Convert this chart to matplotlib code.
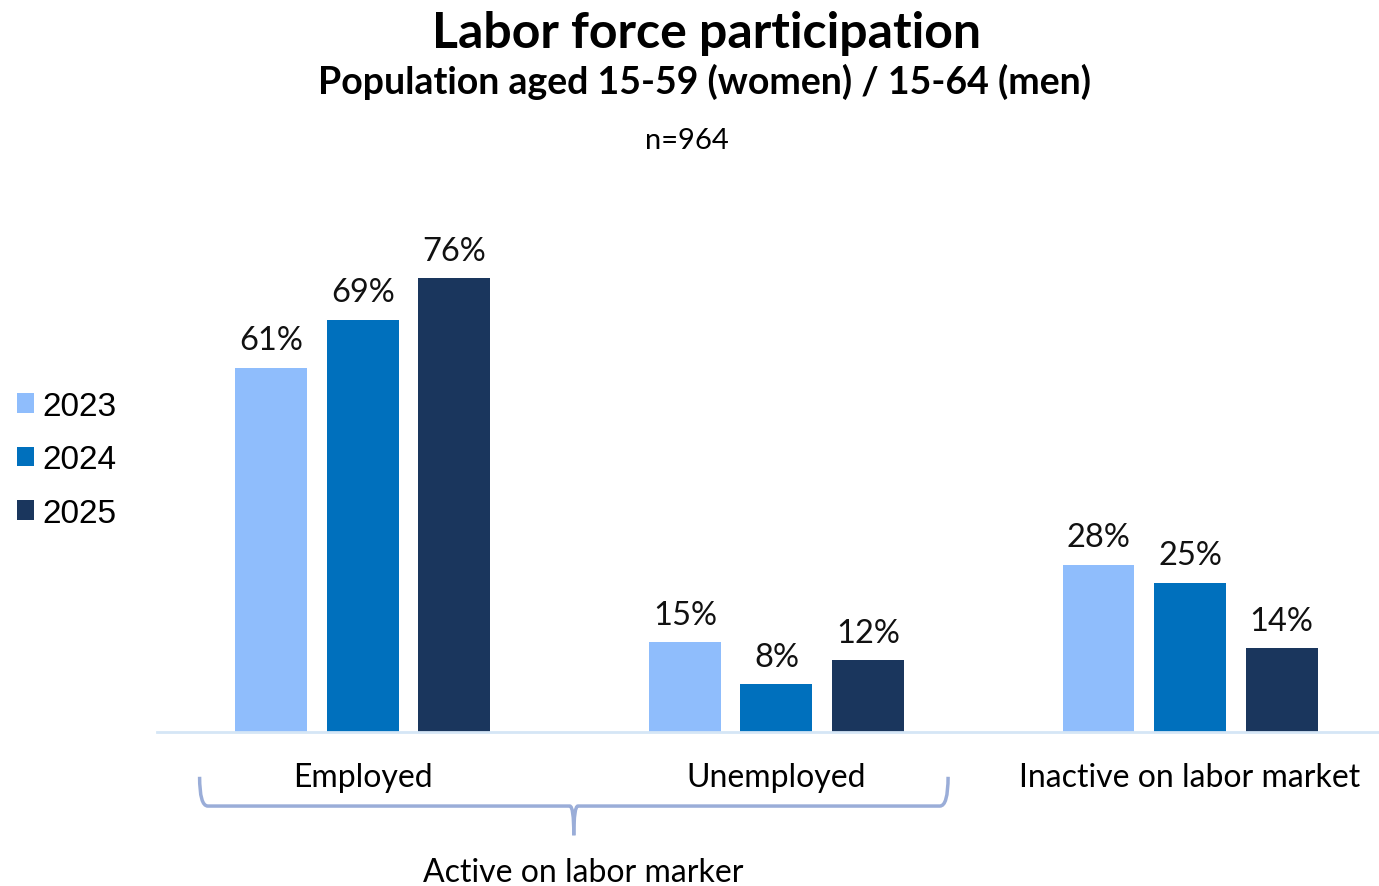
import numpy as np
import matplotlib.pyplot as plt
from matplotlib.path import Path
from matplotlib.patches import PathPatch

categories = ['Employed', 'Unemployed', 'Inactive on labor market']
years = ['2023', '2024', '2025']
values_2023 = [61, 15, 28]
values_2024 = [69, 8, 25]
values_2025 = [76, 12, 14]

colors = ['#8fbdfc', '#0070bd', '#1a365d']
series = [values_2023, values_2024, values_2025]

plt.rcParams['font.family'] = ['Lato', 'DejaVu Sans']

fig = plt.figure(figsize=(13.79, 8.87), dpi=100)
ax = fig.add_axes([157 / 1379, 1 - 733 / 887, 1 - 157 / 1379, (733 - 180) / 887])

x = np.arange(len(categories))
width = 0.174
offset = 0.2213
for i, (vals, col, yr) in enumerate(zip(series, colors, years)):
    pos = x + (i - 1) * offset
    bars = ax.bar(pos, vals, width=width, color=col, label=yr, zorder=2)
    for b, v in zip(bars, vals):
        ax.text(b.get_x() + b.get_width() / 2, v + 2.1, f'{v}%',
                ha='center', va='bottom', fontsize=23.5, color='#111111')

ax.set_xlim(-0.498, 2.457)
ax.set_ylim(0, 92.6)
for s in ['top', 'right', 'left']:
    ax.spines[s].set_visible(False)
ax.spines['bottom'].set_color('#d5e6f6')
ax.spines['bottom'].set_linewidth(2)
ax.set_yticks([])
ax.set_xticks(x)
ax.set_xticklabels(categories, fontsize=23)
ax.tick_params(axis='x', length=0, pad=21.5)

# curly brace grouping the active categories
cx, hw = 0.51, 0.905
y_top, y_mid, y_tip = -7.5, -12.4, -17.3
r = 0.02
verts = [
    (cx - hw, y_top), (cx - hw, y_mid), (cx - hw + r, y_mid),
    (cx - 0.01, y_mid), (cx, y_mid), (cx, y_tip),
]
codes = [Path.MOVETO, Path.CURVE3, Path.CURVE3,
         Path.LINETO, Path.CURVE3, Path.CURVE3]
verts2 = [
    (cx + hw, y_top), (cx + hw, y_mid), (cx + hw - r, y_mid),
    (cx + 0.01, y_mid), (cx, y_mid), (cx, y_tip),
]
for v in (verts, verts2):
    ax.add_patch(PathPatch(Path(v, codes), fill=False, edgecolor='#9aadd8',
                           lw=2.5, clip_on=False))
ax.text(cx + 0.022, -21.0, 'Active on labor marker', ha='center', va='top',
        fontsize=23, clip_on=False)

fig.text(0.512, 1 - 33 / 887, 'Labor force participation', ha='center', va='center',
         fontsize=36, fontweight='bold')
fig.text(0.511, 1 - 82 / 887, 'Population aged 15-59 (women) / 15-64 (men)',
         ha='center', va='center', fontsize=27, fontweight='bold')
fig.text(0.498, 1 - 141 / 887, 'n=964', ha='center', va='center', fontsize=21)

leg = fig.legend(loc='upper left', bbox_to_anchor=(0.0, 1 - 375 / 887),
                 frameon=False, handlelength=0.52, handleheight=0.52,
                 handletextpad=0.25, labelspacing=0.68, borderpad=0,
                 prop={'family': 'Liberation Sans', 'size': 24})

fig.savefig('out.png', dpi=100)
